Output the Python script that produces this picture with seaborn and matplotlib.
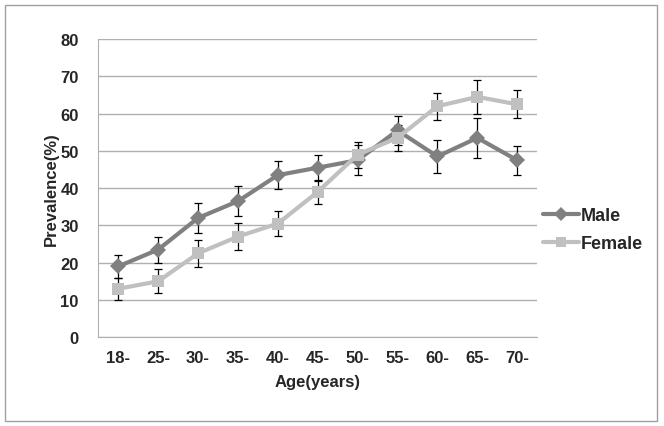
import numpy as np
import pandas as pd
import seaborn as sns
import matplotlib.pyplot as plt
from matplotlib.patches import Rectangle

ages = ["18-", "25-", "30-", "35-", "40-", "45-", "50-", "55-", "60-", "65-", "70-"]
male = [19, 23.5, 32, 36.5, 43.5, 45.5, 47.5, 55.5, 48.5, 53.5, 47.5]
male_err = [3, 3.5, 4, 4, 3.8, 3.5, 4, 4, 4.3, 5.3, 3.9]
female = [13, 15, 22.5, 27, 30.5, 39, 49, 53.5, 62, 64.5, 62.5]
female_err = [3, 3.2, 3.7, 3.6, 3.3, 3.3, 3.5, 3.5, 3.6, 4.5, 3.8]

sns.set_style("white")
plt.rcParams['font.family'] = ['Liberation Sans', 'DejaVu Sans']

pos = np.arange(len(ages))
df = pd.DataFrame({
    "pos": np.concatenate([pos, pos]),
    "val": male + female,
    "sex": ["Male"] * len(ages) + ["Female"] * len(ages),
})

fig = plt.figure(figsize=(6.64, 4.27), dpi=100)
ax = fig.add_axes([0.148, 0.208, 0.661, 0.698])

# error bars first so lines sit on top
ax.errorbar(pos, male, yerr=male_err, fmt="none", ecolor="black", elinewidth=0.9, capsize=3, capthick=0.9, zorder=2)
ax.errorbar(pos, female, yerr=female_err, fmt="none", ecolor="black", elinewidth=0.9, capsize=3, capthick=0.9, zorder=2)

sns.lineplot(data=df, x="pos", y="val", hue="sex", style="sex",
             palette={"Male": "#808080", "Female": "#c0c0c0"},
             markers={"Male": "D", "Female": "s"}, dashes=False,
             markersize=8, linewidth=3, markeredgewidth=0, ax=ax, zorder=3)

ax.set_xlim(-0.5, 10.5)
ax.set_ylim(0, 80)
ax.set_yticks(range(0, 81, 10))
ax.set_xticks(pos)
ax.set_xticklabels(ages)
ax.yaxis.grid(True, color="#b0b0b0", linewidth=1)
ax.set_axisbelow(True)
for s in ["top", "right"]:
    ax.spines[s].set_visible(False)
ax.spines["left"].set_color("#b0b0b0")
ax.spines["bottom"].set_color("#b0b0b0")
ax.tick_params(axis="both", length=0, labelsize=12)
for lab in ax.get_xticklabels() + ax.get_yticklabels():
    lab.set_fontweight("bold")
ax.tick_params(axis="x", pad=9)
ax.tick_params(axis="y", pad=14)
ax.set_xlabel("Age(years)", fontsize=12, fontweight="bold", labelpad=7)
ax.set_ylabel("Prevalence(%)", fontsize=12, fontweight="bold", labelpad=1)

handles, labels = ax.get_legend_handles_labels()
for h in handles:
    h.set_markersize(7)
ax.legend(handles, labels, loc="center left", bbox_to_anchor=(1.013, 0.36),
          frameon=False, prop={"weight": "bold", "size": 13}, borderpad=0,
          borderaxespad=0, handlelength=2.0, handletextpad=0.1, labelspacing=0.6)

fig.patches.append(Rectangle((0.008, 0.012), 0.982, 0.975, transform=fig.transFigure,
                             fill=False, edgecolor="#a0a0a0", linewidth=1))

fig.savefig("out.png", dpi=100)
